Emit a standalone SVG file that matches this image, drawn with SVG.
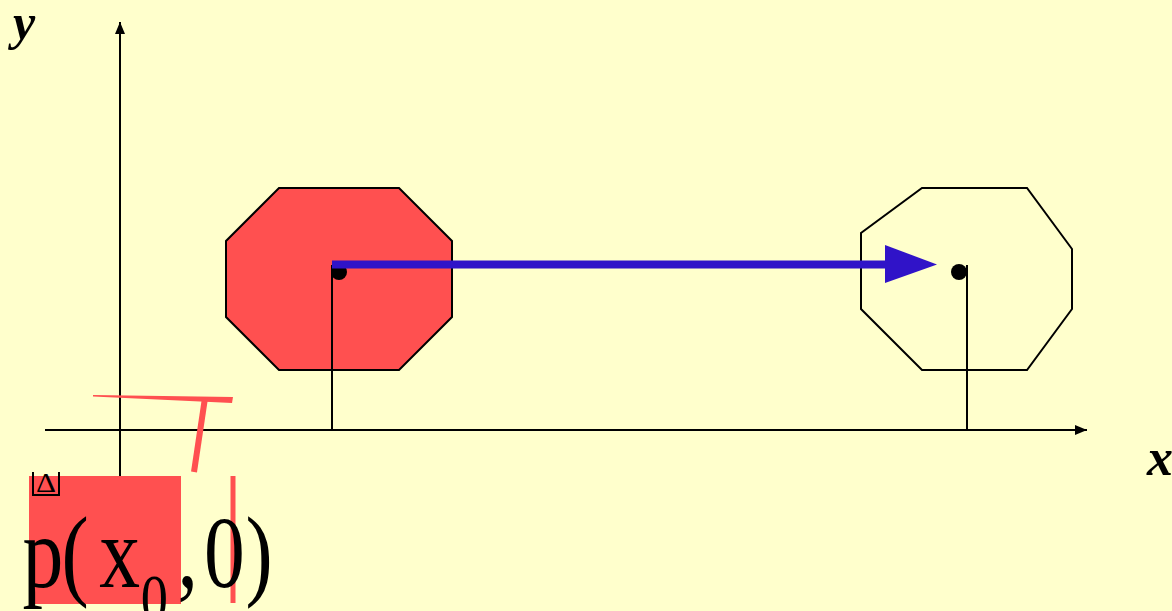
<svg xmlns="http://www.w3.org/2000/svg" width="1172" height="611" viewBox="0 0 1172 611">
<style>
.ax{stroke:#000;stroke-width:2;fill:none}
.oct{stroke:#000;stroke-width:2}
.lbl{font-family:"Liberation Serif","Times New Roman",serif;font-style:italic;font-weight:bold;fill:#000}
.big{font-family:"Liberation Serif","Times New Roman",serif;fill:#000}
.red{fill:#FF5050}
</style>
<defs>
<marker id="ah" markerWidth="12" markerHeight="10" refX="12" refY="5" orient="auto" markerUnits="userSpaceOnUse">
<path d="M0,0 L12,5 L0,10 Z" fill="#000"/>
</marker>
</defs>
<rect width="1172" height="611" fill="#FFFFCC"/>
<g id="connectors">
<line class="ax" x1="45" y1="430" x2="1087" y2="430" marker-end="url(#ah)"/>
<line class="ax" x1="120" y1="476" x2="120" y2="22" marker-end="url(#ah)"/>
</g>
<g id="octagon1">
<polygon class="oct" fill="#FF5050" points="279,188 399,188 452,241 452,317 399,370 279,370 226,317 226,241"/>
<line class="ax" x1="332" y1="265" x2="332" y2="430"/>
<circle cx="339" cy="272" r="8" fill="#000"/>
</g>
<g id="octagon2">
<polygon class="oct" fill="none" points="922,188 1027,188 1072,249 1072,309 1027,370 922,370 861,309 861,233"/>
<line class="ax" x1="967" y1="265" x2="967" y2="430"/>
<circle cx="959" cy="272" r="8" fill="#000"/>
</g>
<g id="move-arrow">
<line x1="332" y1="264.5" x2="888" y2="264.5" stroke="#3013C8" stroke-width="8"/>
<polygon points="885,245 937,264.5 885,283" fill="#3013C8"/>
</g>
<g id="red-marks">
<polygon class="red" points="93,395 233,397 232,403 93,396.5"/>
<line x1="205" y1="398" x2="194" y2="472" stroke="#FF5050" stroke-width="6"/>
<rect class="red" x="29" y="476" width="152" height="128"/>
<line x1="233" y1="476" x2="233" y2="603" stroke="#FF5050" stroke-width="5"/>
</g>
<g id="labels">
<text class="lbl" x="13" y="39" font-size="50">y</text>
<text class="lbl" x="1147" y="475" font-size="52">x</text>
<polyline points="33,472 33,495 59,495 59,472" fill="none" stroke="#000" stroke-width="2"/>
<text class="big" x="36" y="492" font-size="28" textLength="20" lengthAdjust="spacingAndGlyphs">Δ</text>
<g transform="scale(0.8,1)">
<text class="big" y="587" font-size="102"><tspan x="28">p</tspan><tspan x="77">(</tspan><tspan x="124">x</tspan><tspan x="176" y="621" font-size="68">0</tspan><tspan x="222" y="587">,</tspan><tspan x="255">0</tspan><tspan x="307">)</tspan></text>
</g>
</g>
</svg>
